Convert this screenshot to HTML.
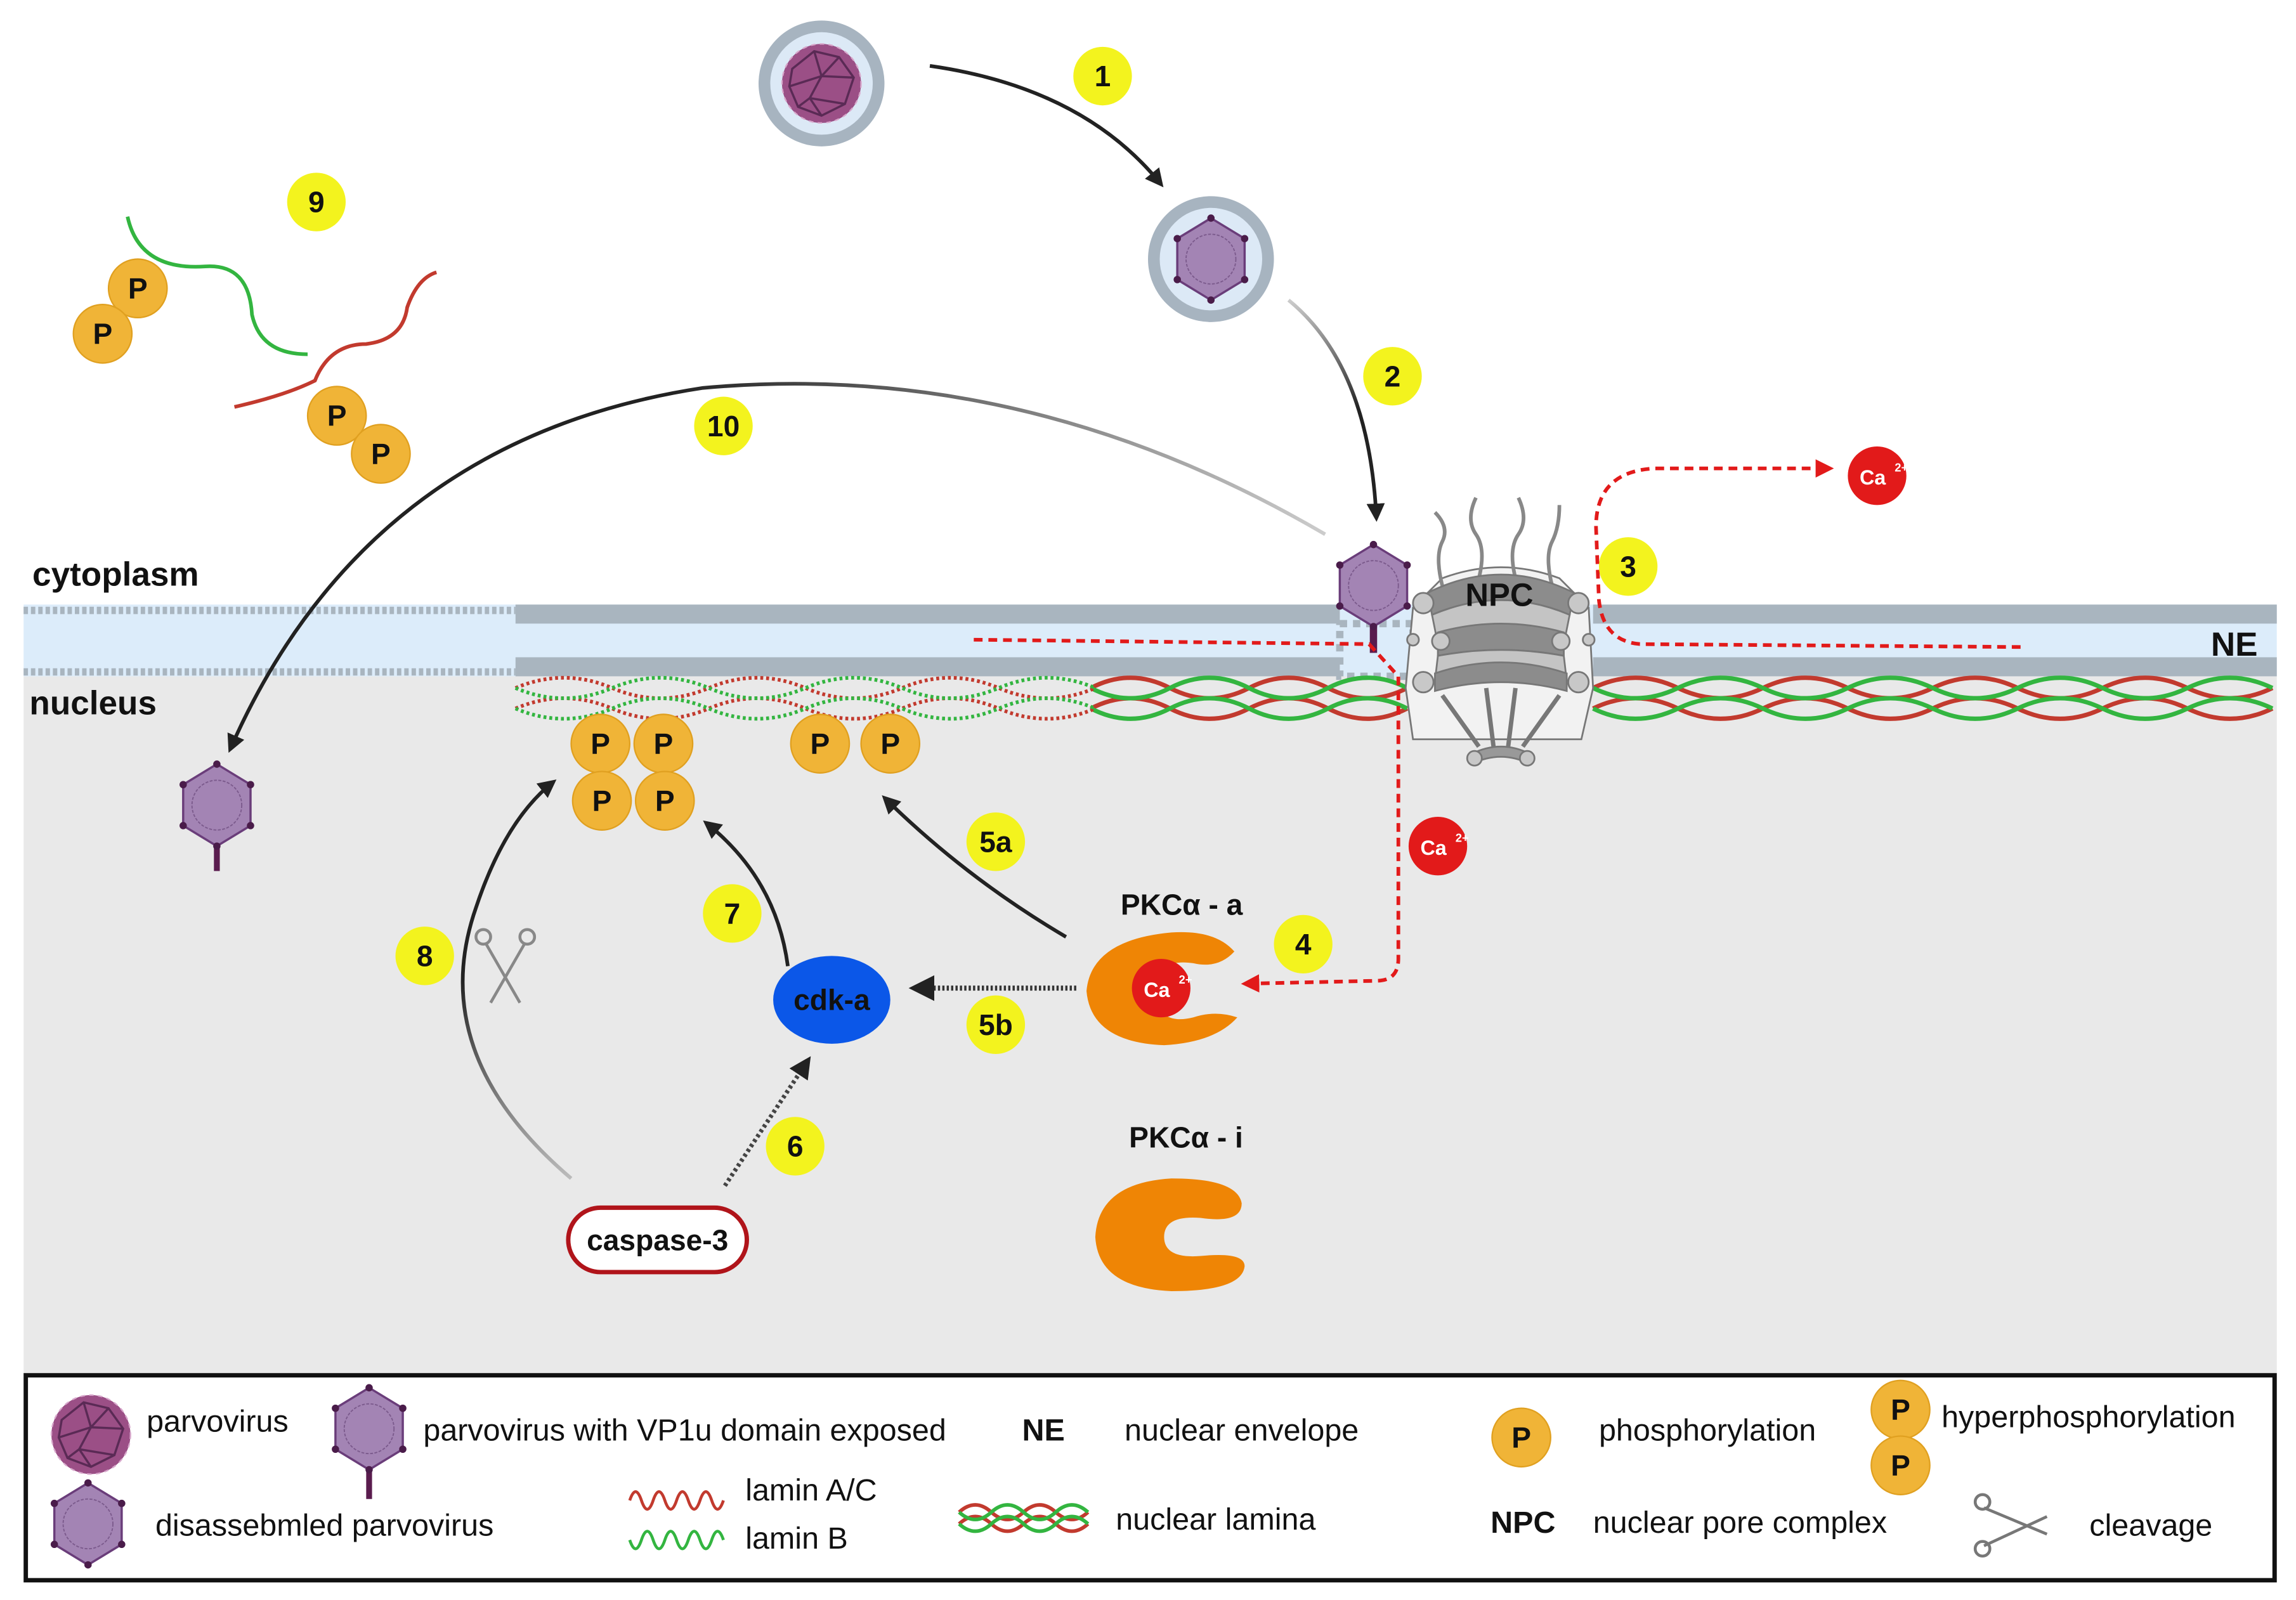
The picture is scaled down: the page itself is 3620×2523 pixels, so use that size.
<!DOCTYPE html>
<html><head><meta charset="utf-8"><style>html,body{margin:0;padding:0;background:#fff}svg{display:block}</style></head>
<body>
<svg width="3620" height="2523" viewBox="0 0 1568 1093" xmlns="http://www.w3.org/2000/svg" font-family="Liberation Sans, sans-serif">
<defs>
<marker id="ah" viewBox="0 0 10 10" refX="8" refY="5" markerWidth="5" markerHeight="5" orient="auto"><path d="M0,0L10,5L0,10z" fill="#222"/></marker>
<marker id="ar" viewBox="0 0 10 10" refX="8" refY="5" markerWidth="5" markerHeight="5" orient="auto"><path d="M0,0L10,5L0,10z" fill="#e21a1a"/></marker>
<linearGradient id="g10" x1="1" y1="0" x2="0" y2="0"><stop offset="0" stop-color="#ccc"/><stop offset="0.6" stop-color="#222"/></linearGradient>
<linearGradient id="g8" x1="0" y1="1" x2="0" y2="0"><stop offset="0" stop-color="#bbb"/><stop offset="0.5" stop-color="#222"/></linearGradient>
<linearGradient id="g2" x1="0" y1="0" x2="0" y2="1"><stop offset="0" stop-color="#ccc"/><stop offset="0.5" stop-color="#222"/></linearGradient>
<g id="hex"><path d="M0,-28L23,-14L23,14L0,28L-23,14L-23,-14Z" fill="#a384b4" stroke="#6a3d7a" stroke-width="1.5"/><circle r="17" fill="none" stroke="#7b5a8c" stroke-width="0.8" stroke-dasharray="2 1"/><g fill="#4a1c4a"><circle cx="0" cy="-28" r="2.5"/><circle cx="23" cy="-14" r="2.5"/><circle cx="23" cy="14" r="2.5"/><circle cx="0" cy="28" r="2.5"/><circle cx="-23" cy="14" r="2.5"/><circle cx="-23" cy="-14" r="2.5"/></g></g>
<g id="P"><circle r="20" fill="#f0b437" stroke="#e0a020" stroke-width="1"/><text y="7" text-anchor="middle" font-size="20" font-weight="bold" fill="#111">P</text></g>
<g id="ball"><circle r="27" fill="#9b4f86"/><g fill="none" stroke="#5a2a55" stroke-width="1.5"><path d="M-20,-10L-5,-22L12,-18L22,-4L16,14L0,22L-16,16L-22,2Z"/><path d="M-5,-22L0,-5L12,-18M0,-5L22,-4M0,-5L-22,2M0,-5L-8,10L0,22M-8,10L-16,16M-8,10L16,14"/></g><circle r="27" fill="none" stroke="#d8a8cc" stroke-width="1" stroke-dasharray="3 3"/></g>
<g id="ca"><circle r="20" fill="#e21a1a"/><text x="-3" y="6" text-anchor="middle" font-size="14" font-weight="bold" fill="#fff">Ca</text><text x="12" y="-3" font-size="8" font-weight="bold" fill="#fff">2+</text></g>
<g id="num"><circle r="20" fill="#f3f31e"/></g>
</defs>

<rect x="16" y="462" width="1539" height="476" fill="#e9e9e9"/>
<rect x="16" y="413" width="1539" height="49" fill="#dcecfa"/>
<rect x="352" y="413" width="563" height="13" fill="#a9b5bf"/>
<rect x="352" y="449" width="563" height="13" fill="#a9b5bf"/>
<rect x="1088" y="413" width="467" height="13" fill="#a9b5bf"/>
<rect x="1088" y="449" width="467" height="13" fill="#a9b5bf"/>
<line x1="16" y1="417" x2="352" y2="417" stroke="#a9b5bf" stroke-width="5" stroke-dasharray="3 2"/>
<line x1="16" y1="459" x2="352" y2="459" stroke="#a9b5bf" stroke-width="5" stroke-dasharray="3 2"/>
<rect x="915" y="426" width="50" height="36" fill="none" stroke="#a9b5bf" stroke-width="5" stroke-dasharray="5 4"/>

<g fill="none" stroke-width="3">
<path d="M745,470 q27,-14 54,0 t54,0 t54,0 t54,0" stroke="#c23a2e"/>
<path d="M745,484 q27,-14 54,0 t54,0 t54,0 t54,0" stroke="#c23a2e"/>
<path d="M745,470 q27,14 54,0 t54,0 t54,0 t54,0" stroke="#33b540"/>
<path d="M745,484 q27,14 54,0 t54,0 t54,0 t54,0" stroke="#33b540"/>
<path d="M1088,470 q29,-14 58,0 t58,0 t58,0 t58,0 t58,0 t58,0 t58,0 t58,0" stroke="#c23a2e"/>
<path d="M1088,484 q29,-14 58,0 t58,0 t58,0 t58,0 t58,0 t58,0 t58,0 t58,0" stroke="#c23a2e"/>
<path d="M1088,470 q29,14 58,0 t58,0 t58,0 t58,0 t58,0 t58,0 t58,0 t58,0" stroke="#33b540"/>
<path d="M1088,484 q29,14 58,0 t58,0 t58,0 t58,0 t58,0 t58,0 t58,0 t58,0" stroke="#33b540"/>
<g stroke-dasharray="2 2" stroke-width="2.5">
<path d="M352,470 q33,-14 66,0 t66,0 t66,0 t66,0 t66,0 t66,0" stroke="#c23a2e"/>
<path d="M352,484 q33,-14 66,0 t66,0 t66,0 t66,0 t66,0 t66,0" stroke="#c23a2e"/>
<path d="M352,470 q33,14 66,0 t66,0 t66,0 t66,0 t66,0 t66,0" stroke="#33b540"/>
<path d="M352,484 q33,14 66,0 t66,0 t66,0 t66,0 t66,0 t66,0" stroke="#33b540"/>
</g></g>

<g stroke="#777" stroke-width="1.2">
<path d="M965,415 L985,395 Q1025,380 1065,395 L1085,415 L1088,470 L1080,505 L965,505 L960,470 Z" fill="#f2f2f2"/>
<g fill="none" stroke="#888" stroke-width="2.5"><path d="M985,400 q-5,-20 0,-30 t-5,-20"/><path d="M1010,395 q5,-20 -2,-30 t0,-25"/><path d="M1035,395 q-5,-20 2,-30 t0,-25"/><path d="M1060,400 q-5,-20 0,-30 t5,-25"/></g>
<path d="M975,405 Q1025,380 1075,405 L1072,420 Q1025,400 978,420Z" fill="#8c8c8c"/>
<path d="M978,420 Q1025,400 1072,420 L1068,440 L982,440Z" fill="#c4c4c4"/>
<path d="M982,432 Q1025,420 1068,432 L1068,448 Q1025,440 982,448Z" fill="#8c8c8c"/>
<path d="M982,448 Q1025,440 1068,448 L1070,465 Q1025,450 980,465Z" fill="#c4c4c4"/>
<path d="M980,460 Q1025,445 1070,460 L1070,472 Q1025,460 980,472Z" fill="#8c8c8c"/>
<g fill="#ccc"><line x1="985" y1="475" x2="1010" y2="510" stroke-width="3"/><line x1="1065" y1="475" x2="1040" y2="510" stroke-width="3"/><line x1="1015" y1="470" x2="1020" y2="510" stroke-width="3"/><line x1="1035" y1="470" x2="1030" y2="510" stroke-width="3"/></g>
<path d="M1005,515 Q1025,505 1045,515 L1045,522 Q1025,512 1005,522Z" fill="#999"/>
<g fill="#c8c8c8"><circle cx="972" cy="412" r="7"/><circle cx="1078" cy="412" r="7"/><circle cx="984" cy="438" r="6"/><circle cx="1066" cy="438" r="6"/><circle cx="965" cy="437" r="4"/><circle cx="1085" cy="437" r="4"/><circle cx="972" cy="466" r="7"/><circle cx="1078" cy="466" r="7"/><circle cx="1007" cy="518" r="5"/><circle cx="1043" cy="518" r="5"/></g>
</g>
<text x="1024" y="414" text-anchor="middle" font-size="22" font-weight="bold" fill="#111">NPC</text>

<line x1="938" y1="420" x2="938" y2="446" stroke="#5a1c4e" stroke-width="5"/>
<use href="#hex" x="938" y="400"/>

<g fill="none" stroke="#e21a1a" stroke-width="2.5" stroke-dasharray="6 4">
<path d="M665,437 L935,440 L955,462 L955,655 Q955,670 940,670 L850,672" marker-end="url(#ar)"/>
<path d="M1380,442 L1120,440 Q1095,438 1092,410 L1090,360 Q1090,322 1130,320 L1250,320" marker-end="url(#ar)"/>
</g>
<use href="#ca" x="1282" y="325"/>
<use href="#ca" x="982" y="578"/>

<circle cx="561" cy="57" r="43" fill="#a7b4c0"/><circle cx="561" cy="57" r="35" fill="#dce9f6"/>
<use href="#ball" x="561" y="57"/>
<circle cx="827" cy="177" r="43" fill="#a7b4c0"/><circle cx="827" cy="177" r="35" fill="#dce9f6"/>
<use href="#hex" x="827" y="177"/>

<g fill="none" stroke-width="2.5">
<path d="M635,45 Q740,60 793,126" stroke="#222" marker-end="url(#ah)"/>
<path d="M880,205 Q935,250 940,354" stroke="url(#g2)" marker-end="url(#ah)"/>
<path d="M905,365 Q700,245 480,265 Q250,300 157,512" stroke="url(#g10)" marker-end="url(#ah)"/>
<path d="M728,640 Q660,600 604,545" stroke="#222" marker-end="url(#ah)"/>
<path d="M538,660 Q530,600 482,562" stroke="#222" marker-end="url(#ah)"/>
<path d="M390,805 Q290,720 325,620 Q345,560 378,534" stroke="url(#g8)" marker-end="url(#ah)"/>
<path d="M735,675 L624,675" stroke="#333" stroke-width="3.5" stroke-dasharray="1.5 1.5" marker-end="url(#ah)"/>
<path d="M495,810 L552,724" stroke="#444" stroke-width="3" stroke-dasharray="2 2" marker-end="url(#ah)"/>
</g>

<path d="M87,148 Q95,185 140,182 Q170,180 172,215 Q178,242 210,242" fill="none" stroke="#33b540" stroke-width="2.5"/>
<path d="M160,278 Q195,270 215,260 Q225,235 250,235 Q275,232 278,210 Q285,190 298,186" fill="none" stroke="#c23a2e" stroke-width="2.5"/>
<use href="#P" x="94" y="197"/><use href="#P" x="70" y="228"/><use href="#P" x="230" y="284"/><use href="#P" x="260" y="310"/>

<line x1="148" y1="570" x2="148" y2="595" stroke="#5a1c4e" stroke-width="4"/>
<use href="#hex" x="148" y="550"/>

<use href="#P" x="410" y="508"/><use href="#P" x="453" y="508"/><use href="#P" x="411" y="547"/><use href="#P" x="454" y="547"/>
<use href="#P" x="560" y="508"/><use href="#P" x="608" y="508"/>

<g fill="none" stroke="#888" stroke-width="2"><line x1="332" y1="645" x2="355" y2="685"/><line x1="358" y1="645" x2="335" y2="685"/><circle cx="330" cy="640" r="5"/><circle cx="360" cy="640" r="5"/></g>

<ellipse cx="568" cy="683" rx="40" ry="30" fill="#0b57e8"/>
<text x="568" y="690" text-anchor="middle" font-size="20" font-weight="bold" fill="#111">cdk-a</text>

<text x="807" y="625" text-anchor="middle" font-size="20" font-weight="bold" fill="#111">PKCα - a</text>
<path d="M843,650 Q830,635 800,637 Q745,642 742,677 Q745,712 795,714 Q830,712 845,695 Q830,690 815,695 Q795,700 790,685 L790,668 Q795,655 815,658 Q832,662 843,650Z" fill="#ef8505"/>
<use href="#ca" x="793" y="675"/>
<text x="810" y="784" text-anchor="middle" font-size="20" font-weight="bold" fill="#111">PKCα - i</text>
<path d="M848,822 Q845,805 800,805 Q750,808 748,845 Q750,880 800,882 Q848,882 850,865 Q850,855 820,858 Q795,860 795,845 Q795,830 820,832 Q848,836 848,822Z" fill="#ef8505"/>

<rect x="388" y="825" width="122" height="44" rx="22" fill="#fff" stroke="#b0141a" stroke-width="3"/>
<text x="449" y="854" text-anchor="middle" font-size="20" font-weight="bold" fill="#111">caspase-3</text>

<g font-size="20" font-weight="bold" text-anchor="middle" fill="#111">
<use href="#num" x="753" y="52"/><text x="753" y="59">1</text>
<use href="#num" x="951" y="257"/><text x="951" y="264">2</text>
<use href="#num" x="1112" y="387"/><text x="1112" y="394">3</text>
<use href="#num" x="890" y="645"/><text x="890" y="652">4</text>
<use href="#num" x="680" y="575"/><text x="680" y="582">5a</text>
<use href="#num" x="680" y="700"/><text x="680" y="707">5b</text>
<use href="#num" x="543" y="783"/><text x="543" y="790">6</text>
<use href="#num" x="500" y="624"/><text x="500" y="631">7</text>
<use href="#num" x="290" y="653"/><text x="290" y="660">8</text>
<use href="#num" x="216" y="138"/><text x="216" y="145">9</text>
<use href="#num" x="494" y="291"/><text x="494" y="298">10</text>
</g>

<g font-size="23" font-weight="bold" fill="#111">
<text x="22" y="400">cytoplasm</text>
<text x="20" y="488">nucleus</text>
<text x="1510" y="448">NE</text>
</g>

<rect x="17.5" y="939.5" width="1536" height="140" fill="#fff" stroke="#111" stroke-width="3"/>
<use href="#ball" x="62" y="980"/>
<line x1="252" y1="995" x2="252" y2="1024" stroke="#5a1c4e" stroke-width="4"/>
<use href="#hex" x="252" y="976"/>
<use href="#hex" x="60" y="1041"/>
<g fill="none" stroke-width="2"><path d="M430,1025 q4,-12 8,0 t8,0 t8,0 t8,0 t8,0 t8,0 t8,0 t8,0" stroke="#c23a2e"/><path d="M430,1052 q4,12 8,0 t8,0 t8,0 t8,0 t8,0 t8,0 t8,0 t8,0" stroke="#33b540"/>
<path d="M655,1033 q11,-10 22,0 t22,0 t22,0 t22,0" stroke="#c23a2e" stroke-width="2.5"/><path d="M655,1041 q11,-10 22,0 t22,0 t22,0 t22,0" stroke="#c23a2e" stroke-width="2.5"/><path d="M655,1033 q11,10 22,0 t22,0 t22,0 t22,0" stroke="#33b540" stroke-width="2.5"/><path d="M655,1041 q11,10 22,0 t22,0 t22,0 t22,0" stroke="#33b540" stroke-width="2.5"/></g>
<use href="#P" x="1039" y="982"/>
<use href="#P" x="1298" y="963"/><use href="#P" x="1298" y="1001"/>
<g fill="none" stroke="#777" stroke-width="2"><line x1="1355" y1="1030" x2="1398" y2="1048"/><line x1="1355" y1="1056" x2="1398" y2="1036"/><circle cx="1354" cy="1026" r="5"/><circle cx="1354" cy="1058" r="5"/></g>
<g font-size="21" fill="#111">
<text x="100" y="978">parvovirus</text>
<text x="289" y="984">parvovirus with VP1u domain exposed</text>
<text x="698" y="984" font-weight="bold">NE</text>
<text x="768" y="984">nuclear envelope</text>
<text x="1092" y="984">phosphorylation</text>
<text x="1326" y="975">hyperphosphorylation</text>
<text x="106" y="1049">disassebmled parvovirus</text>
<text x="509" y="1025">lamin A/C</text>
<text x="509" y="1058">lamin B</text>
<text x="762" y="1045">nuclear lamina</text>
<text x="1018" y="1047" font-weight="bold">NPC</text>
<text x="1088" y="1047">nuclear pore complex</text>
<text x="1427" y="1049">cleavage</text>
</g>
</svg>
</body></html>
